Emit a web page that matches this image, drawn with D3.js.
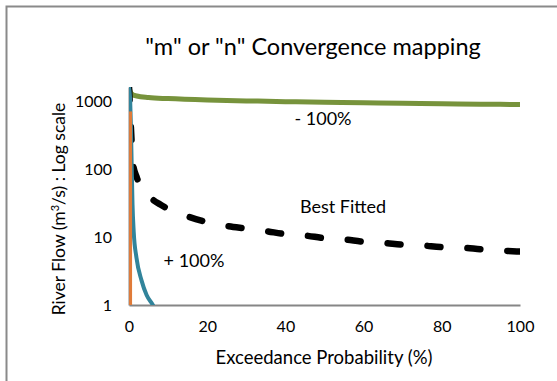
<!DOCTYPE html>
<html>
<head>
<meta charset="utf-8">
<script src="https://cdn.jsdelivr.net/npm/d3@7"></script>
<style>
    body { margin: 0; background: #fff; }
    svg { display: block; font-family: Lato, 'Liberation Sans', sans-serif; }
</style>
</head>
<body>
<div id="chart"></div>
<script>
// data
const xTicks = [0, 20, 40, 60, 80, 100];
const yTicks = [1, 10, 100, 1000];

const minus100 = [[0, 1600], [0.5, 1300], [1, 1230], [2, 1180], [5, 1120], [10, 1080], [20, 1030], [30, 1000],
    [40, 975], [50, 955], [60, 935], [70, 920], [80, 905], [90, 895], [100, 885]];
const bestFitted = [[0, 1600], [0.3, 700], [0.6, 300], [1, 120], [2, 75], [3, 55], [5, 40], [8, 30], [10, 26],
    [15, 20], [20, 16.5], [25, 14.5], [30, 13.3], [35, 12.2], [40, 11], [45, 10.5], [50, 9.6], [55, 9.2],
    [60, 8.5], [65, 8.2], [70, 7.7], [75, 7.5], [80, 7.1], [85, 7.0], [90, 6.6], [95, 6.3], [100, 6.1]];
const plus100 = [[0, 1600], [0.3, 1000], [0.5, 400], [0.7, 100], [0.9, 30], [1.2, 12], [1.9, 5], [3.2, 2.3],
    [4.5, 1.4], [6.1, 1.0], [7, 0.8]];
const orangeLine = [[0.4, 700], [0.4, 0.9]];

const width = 557, height = 381;
const plotLeft = 129, plotRight = 520, plotTop = 87, plotBottom = 305;

const svg = d3.select('#chart').append('svg')
    .attr('width', width)
    .attr('height', height);

// outer frame
svg.append('rect')
    .attr('x', 6.5).attr('y', 6.5)
    .attr('width', 700).attr('height', 500)
    .attr('fill', 'none')
    .attr('stroke', '#8a8a8a')
    .attr('stroke-width', 2);

const x = d3.scaleLinear().domain([0, 100]).range([plotLeft, plotRight]);
const y = d3.scaleLog().domain([1, 1600]).range([plotBottom, plotTop]);

svg.append('defs').append('clipPath').attr('id', 'plot')
    .append('rect')
    .attr('x', plotLeft).attr('y', plotTop)
    .attr('width', plotRight - plotLeft).attr('height', plotBottom - plotTop);

// title
svg.append('text')
    .attr('x', 313).attr('y', 55)
    .attr('text-anchor', 'middle')
    .style('font-size', '23.5px')
    .attr('fill', '#000')
    .text('"m" or "n" Convergence mapping');

// x axis
const xAxis = svg.append('g')
    .attr('transform', `translate(0,${plotBottom})`)
    .call(d3.axisBottom(x).tickValues(xTicks).tickSize(0).tickPadding(16));
xAxis.select('.domain').attr('stroke', '#868686').attr('stroke-width', 2);
xAxis.selectAll('text').style('font-size', '16px').style('font-family', 'Lato').attr('fill', '#000');

// y axis
const yAxis = svg.append('g')
    .attr('transform', `translate(${plotLeft},0)`)
    .call(d3.axisLeft(y).tickValues(yTicks).tickFormat(d3.format('d')).tickSize(0).tickPadding(17));
yAxis.select('.domain').attr('stroke', '#868686').attr('stroke-width', 2);
yAxis.selectAll('text').style('font-size', '16px').style('font-family', 'Lato').attr('fill', '#000');

// axis titles
svg.append('text')
    .attr('x', 324).attr('y', 364)
    .attr('text-anchor', 'middle')
    .style('font-size', '18.5px')
    .text('Exceedance Probability (%)');

svg.append('text')
    .attr('transform', 'translate(65,209) rotate(-90)')
    .attr('text-anchor', 'middle')
    .style('font-size', '17.5px')
    .html('River Flow (m<tspan dy="-6" style="font-size:11px">3</tspan><tspan dy="6">/s) : Log scale</tspan>');

// series
const line = d3.line()
    .curve(d3.curveMonotoneX)
    .x(d => x(d[0]))
    .y(d => y(d[1]));

const plot = svg.append('g').attr('clip-path', 'url(#plot)');

plot.append('path')
    .attr('d', line(minus100))
    .attr('fill', 'none')
    .attr('stroke', '#77933c')
    .attr('stroke-width', 5);

plot.append('path')
    .attr('d', line(bestFitted))
    .attr('fill', 'none')
    .attr('stroke', '#000')
    .attr('stroke-width', 6.5)
    .attr('stroke-linecap', 'round')
    .attr('stroke-dasharray', '13 27');

plot.append('path')
    .attr('d', line(plus100))
    .attr('fill', 'none')
    .attr('stroke', '#31849b')
    .attr('stroke-width', 4);

plot.append('path')
    .attr('d', line(orangeLine))
    .attr('fill', 'none')
    .attr('stroke', '#e07b39')
    .attr('stroke-width', 3);

// annotations
svg.append('text').attr('x', 323).attr('y', 125).attr('text-anchor', 'middle')
    .style('font-size', '18px').text('- 100%');
svg.append('text').attr('x', 343).attr('y', 213).attr('text-anchor', 'middle')
    .style('font-size', '18px').text('Best Fitted');
svg.append('text').attr('x', 194).attr('y', 267).attr('text-anchor', 'middle')
    .style('font-size', '18px').text('+ 100%');
</script>
</body>
</html>
